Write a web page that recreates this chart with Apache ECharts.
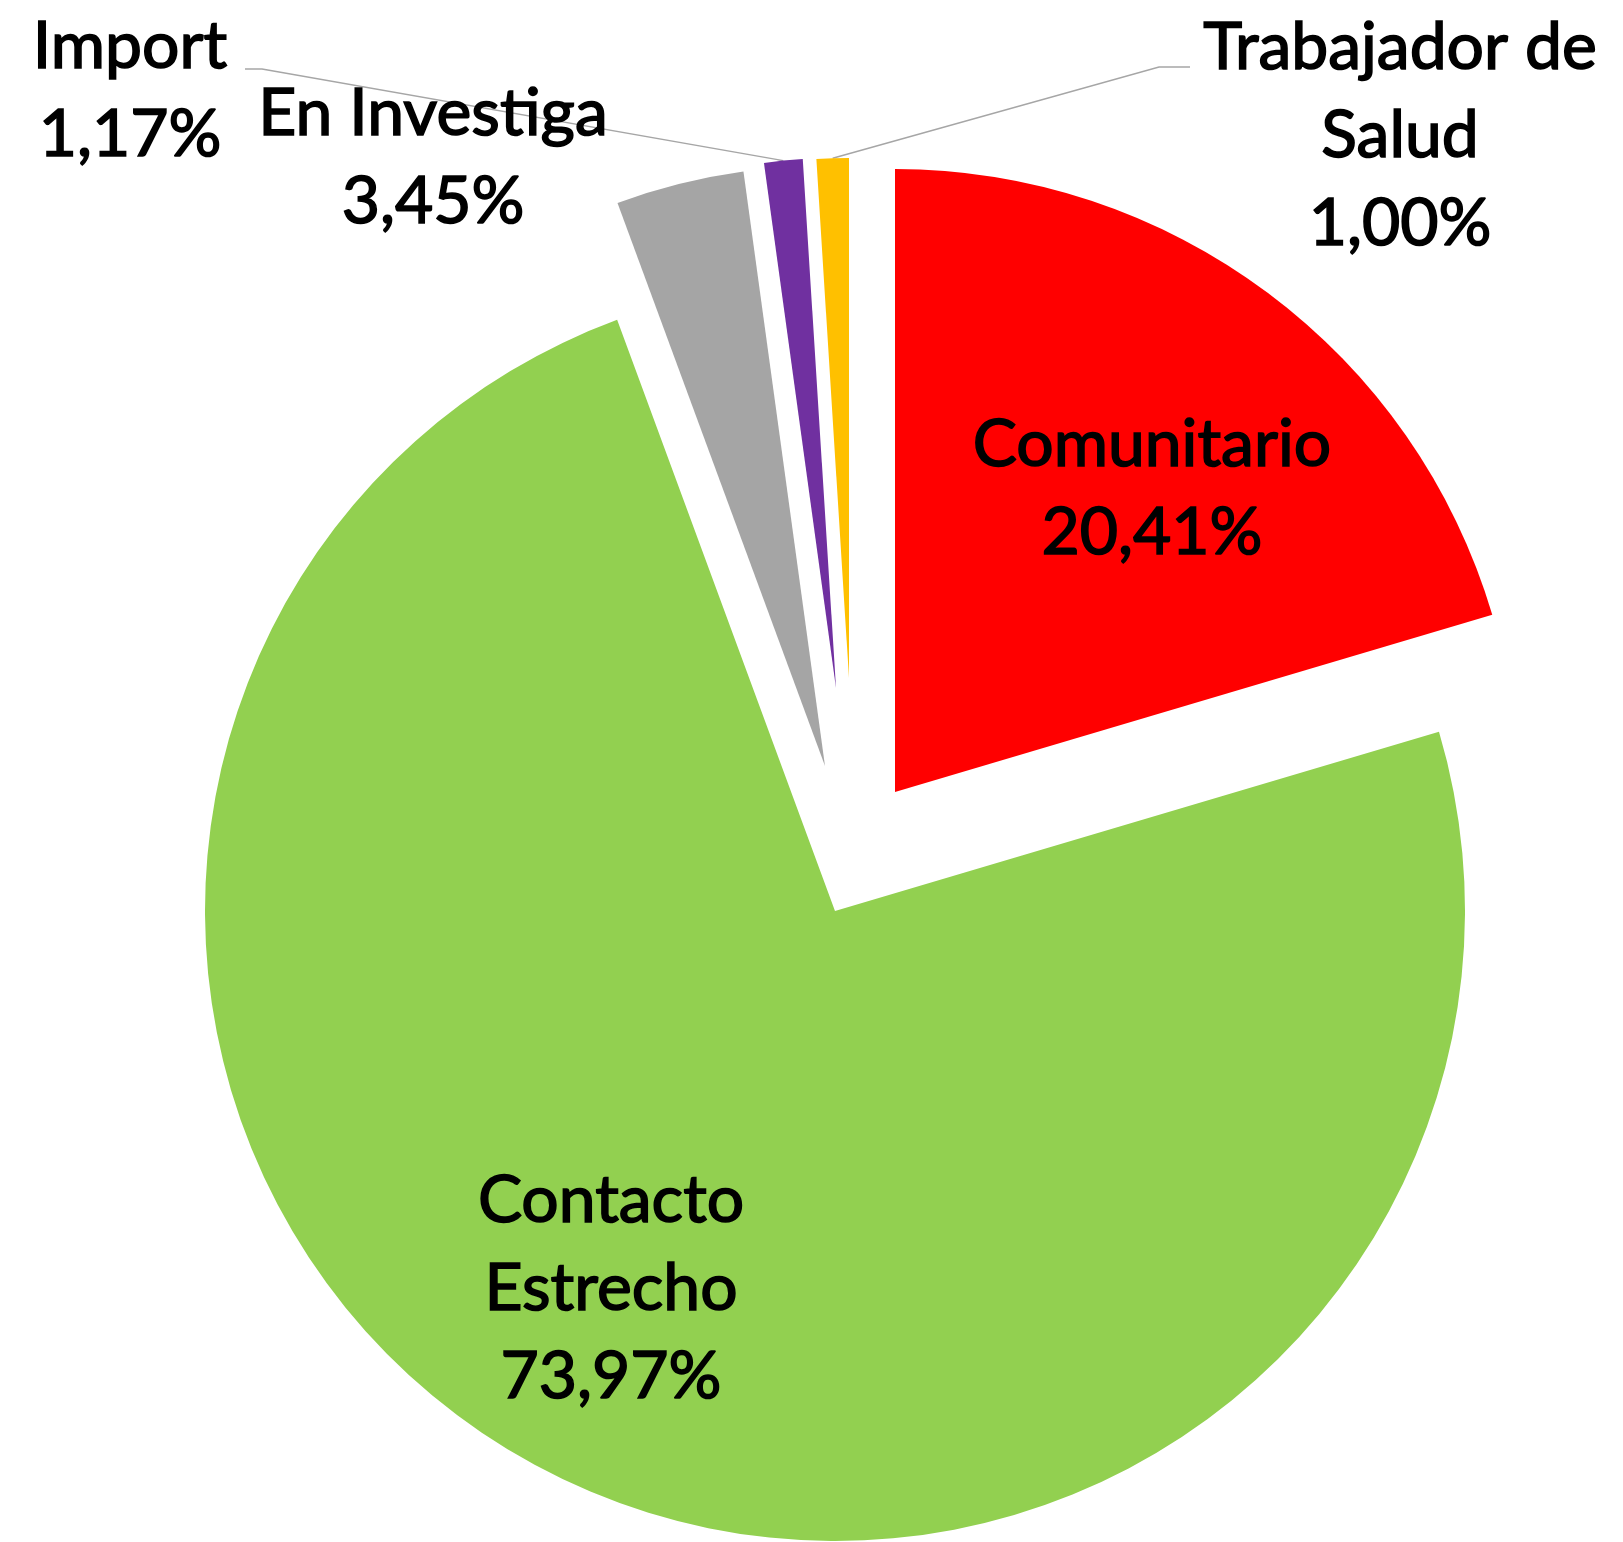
<!DOCTYPE html>
<html>
<head>
<meta charset="utf-8">
<script src="https://cdn.jsdelivr.net/npm/echarts@6/dist/echarts.min.js"></script>
<style>
  html, body { margin: 0; padding: 0; background: #fff; }
  #chart { width: 1623px; height: 1542px; }
</style>
</head>
<body>
<div id="chart"></div>
<script>
// slices, clockwise from 12 o'clock
const categories = ['Comunitario', 'Contacto Estrecho', 'En Investiga', 'Import', 'Trabajador de Salud'];
const labelNames = ['Comunitario', 'Contacto\nEstrecho', 'En Investiga', 'Import', 'Trabajador de\nSalud'];
const shares = [20.41, 73.97, 3.45, 1.17, 1.00];
const colors = ['#ff0000', '#92d050', '#a5a5a5', '#7030a0', '#ffc000'];

// exploded layout: each slice gets its own apex and radius
const sliceCenters = [[895, 792], [835, 911], [825, 766], [836, 688], [849, 678]];
const sliceRadius = [623, 630, 600, 530, 520];
const labelPos = [[1152, 489], [611, 1289], [433, 158], [130, 91], [1400, 136]];
// leader lines: [bend x, bend y, end x, end y] next to the label
const leaderEnds = [null, null, null, [262, 69, 245, 69], [1159, 67, 1190, 67]];

const total = shares.reduce((a, b) => a + b, 0);

function midAngle(i) {
  let start = 0;
  for (let j = 0; j < i; j++) start += shares[j];
  return (start + shares[i] / 2) / total * Math.PI * 2;
}

const chart = echarts.init(document.getElementById('chart'));

const series = categories.map((cat, i) => ({
  type: 'pie',
  name: cat,
  center: sliceCenters[i],
  radius: sliceRadius[i],
  startAngle: 90,
  clockwise: true,
  silent: true,
  animation: false,
  avoidLabelOverlap: false,
  label: {
    fontFamily: 'Lato',
    fontSize: 66,
    lineHeight: 88,
    color: '#000',
    textBorderColor: '#000',
    textBorderWidth: 1.6,
    formatter: p => labelNames[p.dataIndex] + '\n' + p.value.toFixed(2).replace('.', ',') + '%'
  },
  labelLine: {
    lineStyle: { color: '#a6a6a6', width: 1.5 }
  },
  labelLayout: p => {
    if (p.dataIndex !== i) return {};
    const out = { x: labelPos[i][0], y: labelPos[i][1], align: 'center', verticalAlign: 'middle' };
    const le = leaderEnds[i];
    if (le) {
      const a = midAngle(i);
      const c = sliceCenters[i];
      const r = sliceRadius[i];
      out.labelLinePoints = [[c[0] + r * Math.sin(a), c[1] - r * Math.cos(a)], [le[0], le[1]], [le[2], le[3]]];
    }
    return out;
  },
  data: categories.map((name, j) => ({
    name: name,
    value: shares[j],
    itemStyle: { color: j === i ? colors[j] : 'rgba(0,0,0,0)' },
    label: { show: j === i, position: j < 2 ? 'inside' : 'outside' },
    labelLine: { show: j === i && leaderEnds[j] != null }
  }))
}));

chart.setOption({
  backgroundColor: '#fff',
  series: series
});
</script>
</body>
</html>
